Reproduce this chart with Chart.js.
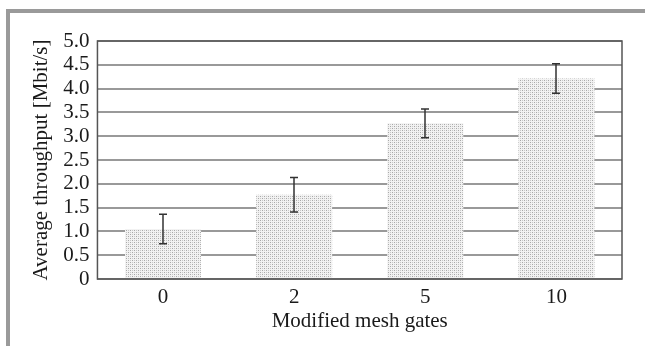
<!DOCTYPE html>
<html>
<head>
<meta charset="utf-8">
<script src="https://cdn.jsdelivr.net/npm/chart.js@4"></script>
<style>
  html, body { margin: 0; padding: 0; background: #fff; }
  #frame { position: absolute; left: 6px; top: 9px; width: 639px; height: 337px;
           border-top: 4px solid #9a9a9a; border-left: 4px solid #9a9a9a; box-sizing: border-box; }
  #wrap { position: absolute; left: 0; top: 0; width: 645px; height: 346px; }
</style>
</head>
<body>
<div id="frame"></div>
<div id="wrap"><canvas id="c" width="645" height="346"></canvas></div>
<script>
const categories = ['0', '2', '5', '10'];
const throughput = [1.05, 1.77, 3.27, 4.21];
const errors = [0.31, 0.36, 0.30, 0.31];
const yTicks = [0, 0.5, 1.0, 1.5, 2.0, 2.5, 3.0, 3.5, 4.0, 4.5, 5.0];

function makePattern() {
  const p = document.createElement('canvas');
  p.width = 4; p.height = 4;
  const g = p.getContext('2d');
  g.fillStyle = '#f2f2f2';
  g.fillRect(0, 0, 4, 4);
  g.fillStyle = '#a8a8a8';
  g.fillRect(0, 0, 1, 1);
  g.fillRect(2, 2, 1, 1);
  g.fillStyle = '#c8c8c8';
  g.fillRect(2, 0, 1, 1);
  g.fillRect(0, 2, 1, 1);
  return document.getElementById('c').getContext('2d').createPattern(p, 'repeat');
}

const extras = {
  id: 'extras',
  afterDatasetsDraw(chart) {
    const ctx = chart.ctx;
    const a = chart.chartArea;
    const y = chart.scales.y;
    const meta = chart.getDatasetMeta(0);
    ctx.save();
    ctx.strokeStyle = '#333';
    ctx.lineWidth = 1.5;
    meta.data.forEach((bar, i) => {
      const x = Math.round(bar.x);
      const top = y.getPixelForValue(throughput[i] + errors[i]);
      const bot = y.getPixelForValue(throughput[i] - errors[i]);
      ctx.beginPath();
      ctx.moveTo(x, top); ctx.lineTo(x, bot);
      ctx.moveTo(x - 4, top); ctx.lineTo(x + 4, top);
      ctx.moveTo(x - 4, bot); ctx.lineTo(x + 4, bot);
      ctx.stroke();
    });
    ctx.strokeStyle = '#555';
    ctx.lineWidth = 1.5;
    ctx.strokeRect(a.left, a.top, a.right - a.left, a.bottom - a.top);
    ctx.restore();
  }
};

const font = { family: "'Liberation Serif', 'Times New Roman', serif", size: 21 };
const fontX = { family: "'Liberation Serif', 'Times New Roman', serif", size: 21, lineHeight: 1 };

new Chart(document.getElementById('c'), {
  type: 'bar',
  data: {
    labels: categories,
    datasets: [{
      data: throughput,
      backgroundColor: makePattern(),
      borderWidth: 0,
      barPercentage: 0.58,
      categoryPercentage: 1.0
    }]
  },
  options: {
    responsive: false,
    animation: false,
    layout: { padding: { top: 41, right: 23, left: 29, bottom: 6 } },
    plugins: { legend: { display: false }, tooltip: { enabled: false } },
    scales: {
      x: {
        grid: { display: false, drawTicks: false },
        border: { display: false },
        ticks: { color: '#1a1a1a', font: fontX, padding: 8 },
        title: { display: true, text: 'Modified mesh gates', color: '#1a1a1a', font: fontX, padding: { top: -5, bottom: 8 } }
      },
      y: {
        min: 0, max: 5,
        afterBuildTicks(scale) { scale.ticks = yTicks.map(v => ({ value: v })); },
        grid: { color: '#999', lineWidth: 2, drawTicks: false },
        border: { display: false },
        ticks: {
          color: '#1a1a1a', font: font, padding: 8, autoSkip: false,
          callback: v => v === 0 ? '0' : Number(v).toFixed(1)
        },
        title: { display: true, text: 'Average throughput [Mbit/s]', color: '#1a1a1a', font: font, padding: { top: 0, bottom: 1 } }
      }
    }
  },
  plugins: [extras]
});
</script>
</body>
</html>
